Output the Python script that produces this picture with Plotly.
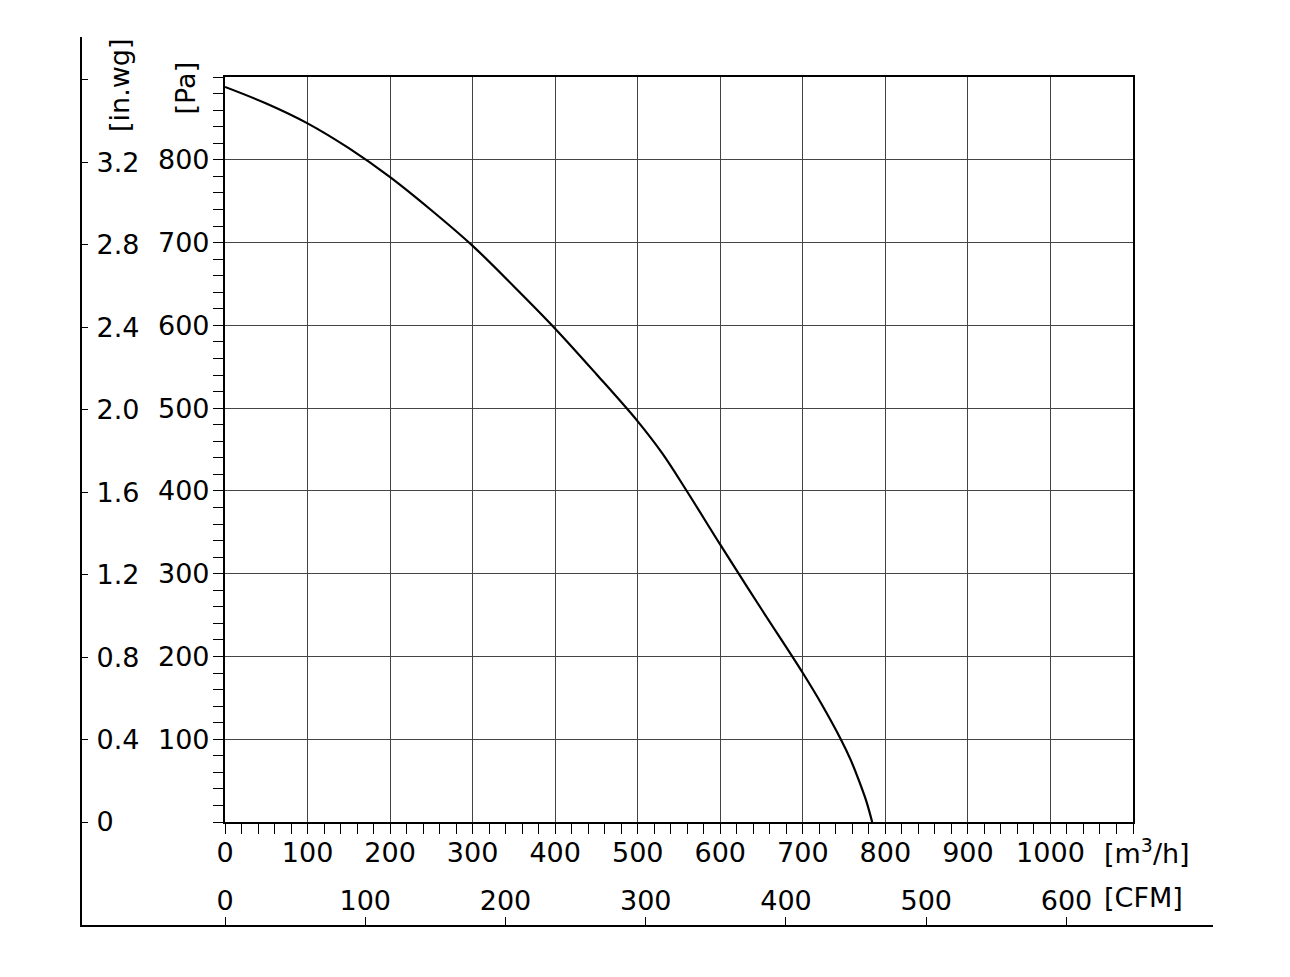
import plotly.graph_objects as go

# fan curve: airflow [m3/h] vs static pressure [Pa]
flow = [0, 50, 100, 150, 200, 250, 300, 350, 400, 450, 500, 530, 560, 600, 650, 700, 723, 746, 758, 768, 777, 784]
pressure = [888, 868, 844, 814, 779, 739, 696, 647, 596, 541, 484, 445, 399, 335, 257, 180, 142, 100, 75, 50, 25, 0]

flow_ticks = [0, 100, 200, 300, 400, 500, 600, 700, 800, 900, 1000, 1100]
flow_labels = ['0', '100', '200', '300', '400', '500', '600', '700', '800', '900', '1000', '']
pa_ticks = [0, 100, 200, 300, 400, 500, 600, 700, 800]
inwg_ticks = [0, 0.4, 0.8, 1.2, 1.6, 2.0, 2.4, 2.8, 3.2, 3.6]
inwg_labels = ['0', '0.4', '0.8', '1.2', '1.6', '2.0', '2.4', '2.8', '3.2', '']
cfm_ticks = [0, 100, 200, 300, 400, 500, 600]

PA_PER_INWG = 249.089
M3H_PER_CFM = 1.69901

# page has an 8px body margin
OFF = 8
W, H = 1290 - 2 * OFF, 977 - 2 * OFF
# outer frame (left / bottom axis lines) in page pixels
FL, FR, FT, FB = 82, 1213, 37, 925
ML, MR, MT, MB = FL - OFF, W - (FR - OFF), FT - OFF, H - (FB - OFF)
PW, PH = W - ML - MR, H - MT - MB
# plot box in page pixels
X0, X1, Y0, Y1 = 225, 1133, 822, 77
XMAX, YMAX = 1100, 900


def px(x):
    return (x - FL) / PW


def py(y):
    return (FB - y) / PH


xdom = [px(X0), px(X1)]
ydom = [py(Y0), py(Y1)]
ppx = (X1 - X0) / XMAX
ppy = (Y0 - Y1) / YMAX
# outer axes share the scale of the main one
pa_lo, pa_hi = -(FB - Y0) / ppy, (Y0 - FT) / ppy
m3_lo, m3_hi = -(X0 - FL) / ppx, (FR - X0) / ppx

FONT = dict(family='DejaVu Sans', size=27, color='black')
GRID = '#444444'

fig = go.Figure()
fig.add_trace(go.Scatter(x=flow, y=pressure, mode='lines',
                         line=dict(color='black', width=2.2, shape='spline', smoothing=1.0),
                         showlegend=False, hoverinfo='skip'))
fig.add_trace(go.Scatter(x=[], y=[], xaxis='x2', yaxis='y2', showlegend=False))
fig.add_trace(go.Scatter(x=[], y=[], xaxis='x', yaxis='y3', showlegend=False))

fig.update_layout(
    template='none',
    width=W, height=H, margin=dict(l=ML, r=MR, t=MT, b=MB),
    paper_bgcolor='white', plot_bgcolor='rgba(0,0,0,0)', font=FONT, showlegend=False,
    xaxis=dict(domain=xdom, range=[0, XMAX], tickmode='array', tickvals=flow_ticks, ticktext=flow_labels,
               ticks='outside', ticklen=10, tickcolor='black', tickwidth=1, tickfont=FONT, ticklabelstandoff=-4,
               minor=dict(dtick=20, ticks='outside', ticklen=10, tickcolor='black', tickwidth=1, showgrid=False),
               showgrid=True, gridcolor=GRID, gridwidth=1, zeroline=False,
               showline=True, linecolor='black', linewidth=2, mirror=True, anchor='y'),
    yaxis=dict(domain=ydom, range=[0, YMAX], dtick=100, showticklabels=False,
               ticks='outside', ticklen=10, tickcolor='black', tickwidth=1,
               minor=dict(dtick=20, ticks='outside', ticklen=10, tickcolor='black', tickwidth=1, showgrid=False),
               showgrid=True, gridcolor=GRID, gridwidth=1, zeroline=False,
               showline=True, linecolor='black', linewidth=2, mirror=True, anchor='x'),
    yaxis3=dict(domain=ydom, range=[0, YMAX], overlaying='y', anchor='free', position=px(154),
                side='left', tickmode='array', tickvals=pa_ticks, ticks='', ticklabelposition='inside',
                tickfont=FONT, showgrid=False, zeroline=False, showline=False),
    xaxis2=dict(domain=[0, 1], range=[m3_lo / M3H_PER_CFM, m3_hi / M3H_PER_CFM], anchor='y2',
                side='bottom', tickmode='array', tickvals=cfm_ticks, tickfont=FONT, ticklabelstandoff=4,
                ticks='inside', ticklen=8, tickcolor='black', tickwidth=1, ticklabelposition='inside',
                showgrid=False, zeroline=False, showline=True, linecolor='black', linewidth=2),
    yaxis2=dict(domain=[0, 1], range=[pa_lo / PA_PER_INWG, pa_hi / PA_PER_INWG], anchor='x2',
                side='left', tickmode='array', tickvals=inwg_ticks, ticktext=inwg_labels, tickfont=FONT,
                ticks='inside', ticklen=6, tickcolor='black', tickwidth=1, ticklabelposition='inside',
                ticklabelstandoff=11,
                showgrid=False, zeroline=False, showline=True, linecolor='black', linewidth=2),
)

fig.add_annotation(text='[in.wg]', textangle=-90, x=px(120), y=py(36), xref='paper', yref='paper',
                   xanchor='center', yanchor='top', showarrow=False, font=FONT)
fig.add_annotation(text='[Pa]', textangle=-90, x=px(185), y=py(60), xref='paper', yref='paper',
                   xanchor='center', yanchor='top', showarrow=False, font=FONT)
fig.add_annotation(text='[m<sup>3</sup>/h]', x=px(1102), y=py(851), xref='paper', yref='paper',
                   xanchor='left', yanchor='middle', showarrow=False, font=FONT)
fig.add_annotation(text='[CFM]', x=px(1102), y=py(897), xref='paper', yref='paper',
                   xanchor='left', yanchor='middle', showarrow=False, font=FONT)

fig.write_html("out.html")
